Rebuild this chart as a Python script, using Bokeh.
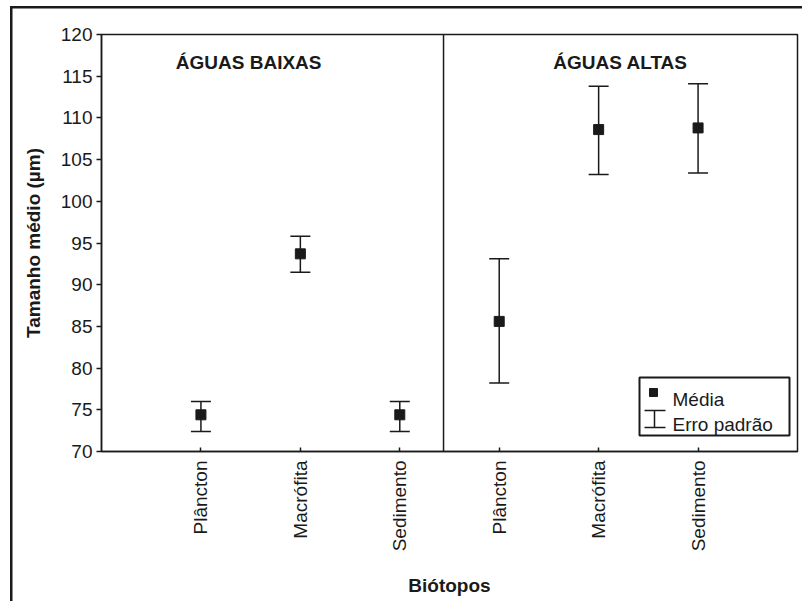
import math

from bokeh.plotting import figure
from bokeh.models import (Range1d, FixedTicker, Whisker, TeeHead, Span, Label,
                          ColumnDataSource)
from bokeh.core.properties import value
from bokeh.embed import file_html
from bokeh.resources import INLINE

# Mean body size (µm) and standard error limits per biotope, low and high water
biotopes = ["Plâncton", "Macrófita", "Sedimento", "Plâncton", "Macrófita", "Sedimento"]
media = [74.4, 93.7, 74.4, 85.6, 108.6, 108.8]
erro_inf = [72.4, 91.5, 72.4, 78.2, 103.2, 103.4]
erro_sup = [76.0, 95.8, 76.0, 93.1, 113.8, 114.1]
periodos = ["ÁGUAS BAIXAS", "ÁGUAS ALTAS"]
y_ticks = [70, 75, 80, 85, 90, 95, 100, 105, 110, 115, 120]

FONT = "Liberation Sans"
INK = "#1a1a1a"

pos = list(range(1, len(biotopes) + 1))
src = ColumnDataSource(dict(x=pos, media=media, inf=erro_inf, sup=erro_sup))

p = figure(width=802, height=601, x_range=Range1d(0, 7), y_range=Range1d(70, 120),
           output_backend="svg", toolbar_location=None,
           min_border_left=101, min_border_right=5, min_border_top=34,
           min_border_bottom=150, background_fill_color="white",
           border_fill_color=None)
p.xgrid.visible = False
p.ygrid.visible = False
p.outline_line_color = INK
p.outline_line_width = 1.5

# outer frame of the figure (top and left edges), painted behind the canvas
line = f"linear-gradient({INK}, {INK})"
p.styles = {
    "background": f"{line} 10px 6px / 100% 2.5px no-repeat, "
                  f"{line} 10px 6px / 2.5px 100% no-repeat, white",
}

# pixel-space ranges for the hand-drawn legend
p.extra_x_ranges = {"px": Range1d(0, 696)}
p.extra_y_ranges = {"px": Range1d(0, 417)}

# axes
xa = p.xaxis[0]
xa.ticker = FixedTicker(ticks=pos)
xa.major_label_overrides = {i: name for i, name in zip(pos, biotopes)}
xa.major_label_orientation = math.pi / 2
xa.major_tick_in = 4
xa.major_tick_out = 0
xa.minor_tick_in = 0
xa.minor_tick_out = 0
xa.major_label_standoff = 9
xa.axis_label = "Biótopos"
xa.axis_label_standoff = 21

ya = p.yaxis[0]
ya.ticker = FixedTicker(ticks=y_ticks)
ya.major_tick_in = 0
ya.major_tick_out = 5
ya.minor_tick_in = 0
ya.minor_tick_out = 0
ya.major_label_standoff = 4
ya.axis_label = "Tamanho médio (µm)"
ya.axis_label_standoff = 14

for ax in (xa, ya):
    ax.axis_line_color = INK
    ax.axis_line_width = 1.5
    ax.major_tick_line_color = INK
    ax.major_tick_line_width = 1.5
    ax.major_label_text_font = FONT
    ax.major_label_text_font_size = "19px"
    ax.major_label_text_color = INK
    ax.axis_label_text_font = FONT
    ax.axis_label_text_font_size = "19px"
    ax.axis_label_text_font_style = "bold"
    ax.axis_label_text_color = INK

# divider between the two hydrological periods
p.add_layout(Span(location=3.44, dimension="height", line_color=INK, line_width=1.5))
for txt, xc in zip(periodos, [1.48, 5.22]):
    p.add_layout(Label(x=xc, y=116.6, text=txt, text_align="center",
                       text_baseline="alphabetic", text_font=FONT,
                       text_font_size="19px", text_font_style="bold",
                       text_color=INK))

# standard error bars and means
p.add_layout(Whisker(base="x", lower="inf", upper="sup", source=src,
                     line_color=INK, line_width=1.5,
                     upper_head=TeeHead(size=20, line_color=INK, line_width=1.5),
                     lower_head=TeeHead(size=20, line_color=INK, line_width=1.5)))
p.scatter("x", "media", source=src, marker="square", size=10,
          fill_color=INK, line_color=INK)

# legend box
p.quad(left=[538], right=[688], bottom=[16], top=[74], x_range_name="px",
       y_range_name="px", fill_color="white", line_color=INK, line_width=2)
p.scatter(x=[552], y=[59], marker="square", size=8, fill_color=INK,
          line_color=INK, x_range_name="px", y_range_name="px")
p.segment(x0=[553, 543, 543], y0=[24, 41, 24], x1=[553, 564, 564], y1=[41, 41, 24],
          line_color=INK, line_width=1.5, x_range_name="px", y_range_name="px")
p.text(x=[571, 571], y=[52, 27.5], text=["Média", "Erro padrão"],
       text_font=value(FONT), text_font_size="19px", text_baseline="alphabetic",
       text_color=INK, x_range_name="px", y_range_name="px")

open("out.html", "w").write(file_html(p, INLINE))
